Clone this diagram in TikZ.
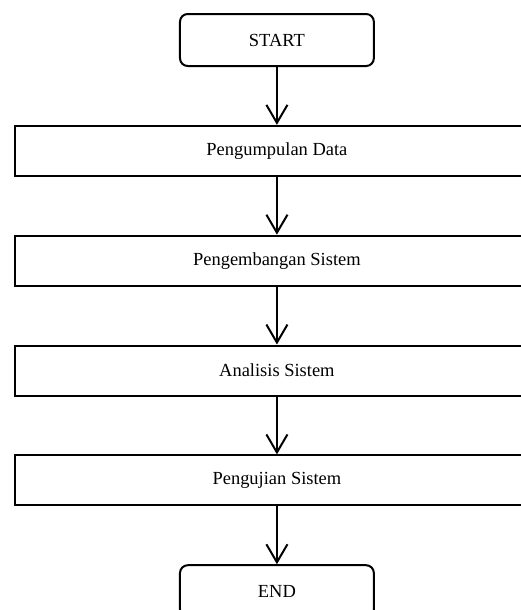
\documentclass[tikz,border=0pt]{standalone}
\usepackage{fontspec}
\setmainfont{Liberation Serif}
\usetikzlibrary{arrows.meta,positioning}

\begin{document}
\begin{tikzpicture}[
  term/.style={draw,line width=1.3pt,rounded corners=5pt,minimum width=126pt,
               minimum height=33.8pt,inner sep=0pt,font=\fontsize{12}{14}\selectfont},
  proc/.style={draw,line width=1.3pt,minimum width=341pt,minimum height=32.5pt,
               inner sep=0pt,font=\fontsize{12}{14}\selectfont},
  ar/.style={-{Straight Barb[length=11.7pt,width=13.7pt]},line width=1.3pt},
  node distance=37.6pt,
]
\useasboundingbox (-180pt,26pt) rectangle (158.6pt,-370.5pt);
\clip (-180pt,26pt) rectangle (158.6pt,-370.5pt);
% ============ flow ============
\node[term] (start) at (0,0) {START};
\node[proc,below=of start] (kumpul) {Pengumpulan Data};
\node[proc,below=of kumpul] (kembang) {Pengembangan Sistem};
\node[proc,below=of kembang] (analisis) {Analisis Sistem};
\node[proc,below=of analisis] (uji) {Pengujian Sistem};
\node[term,below=of uji] (end) {END};
\draw[ar] (start) -- (kumpul);
\draw[ar] (kumpul) -- (kembang);
\draw[ar] (kembang) -- (analisis);
\draw[ar] (analisis) -- (uji);
\draw[ar] (uji) -- (end);
\end{tikzpicture}
\end{document}
